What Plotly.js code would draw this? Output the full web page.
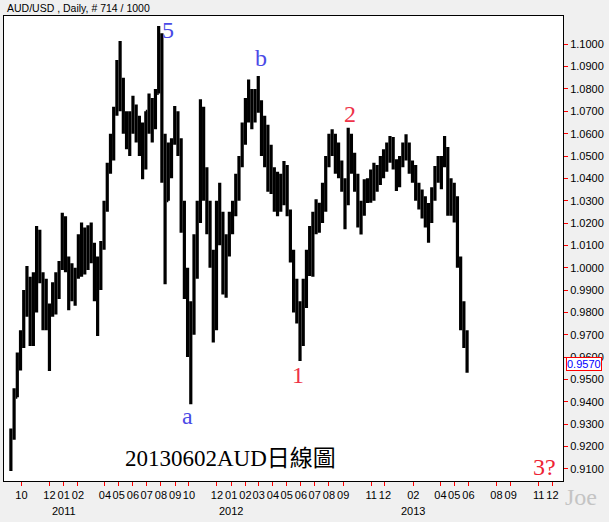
<!DOCTYPE html>
<html><head><meta charset="utf-8">
<script src="https://cdn.plot.ly/plotly-3.0.1.min.js"></script>
<style>html,body{margin:0;padding:0;background:#f0f0f0;overflow:hidden;}</style>
</head><body><div id="chart" style="width:609px;height:522px;"></div>
<script>
// Weekly bars (mid-week dates)
const weeks = [
'2010-09-08','2010-09-15','2010-09-22','2010-09-29','2010-10-06','2010-10-13','2010-10-20','2010-10-27','2010-11-03','2010-11-10','2010-11-17','2010-11-24','2010-12-01','2010-12-08','2010-12-15','2010-12-22','2010-12-29',
'2011-01-05','2011-01-12','2011-01-19','2011-01-26','2011-02-02','2011-02-09','2011-02-16','2011-02-23','2011-03-02','2011-03-09','2011-03-16','2011-03-23','2011-03-30','2011-04-06','2011-04-13','2011-04-20','2011-04-27','2011-05-04','2011-05-11','2011-05-18','2011-05-25','2011-06-01','2011-06-08','2011-06-15','2011-06-22','2011-06-29','2011-07-06','2011-07-13','2011-07-20','2011-07-27','2011-08-03','2011-08-10','2011-08-17','2011-08-24','2011-08-31','2011-09-07','2011-09-14','2011-09-21','2011-09-28','2011-10-05','2011-10-12','2011-10-19','2011-10-26','2011-11-02','2011-11-09','2011-11-16','2011-11-23','2011-11-30','2011-12-07','2011-12-14','2011-12-21','2011-12-28',
'2012-01-04','2012-01-11','2012-01-18','2012-01-25','2012-02-01','2012-02-08','2012-02-15','2012-02-22','2012-02-29','2012-03-07','2012-03-14','2012-03-21','2012-03-28','2012-04-04','2012-04-11','2012-04-18','2012-04-25','2012-05-02','2012-05-09','2012-05-16','2012-05-23','2012-05-30','2012-06-06','2012-06-13','2012-06-20','2012-06-27','2012-07-04','2012-07-11','2012-07-18','2012-07-25','2012-08-01','2012-08-08','2012-08-15','2012-08-22','2012-08-29','2012-09-05','2012-09-12','2012-09-19','2012-09-26','2012-10-03','2012-10-10','2012-10-17','2012-10-24','2012-10-31','2012-11-07','2012-11-14','2012-11-21','2012-11-28','2012-12-05','2012-12-12','2012-12-19','2012-12-26',
'2013-01-02','2013-01-09','2013-01-16','2013-01-23','2013-01-30','2013-02-06','2013-02-13','2013-02-20','2013-02-27','2013-03-06','2013-03-13','2013-03-20','2013-03-27','2013-04-03','2013-04-10','2013-04-17','2013-04-24','2013-05-01','2013-05-08','2013-05-15','2013-05-22','2013-05-29'
];
const openP = [
0.9120,0.9250,0.9420,0.9600,0.9700,0.9850,0.9920,0.9800,0.9810,1.0150,0.9960,0.9850,0.9730,0.9820,0.9860,0.9950,1.0000,
1.0220,1.0000,0.9950,0.9900,0.9960,1.0130,1.0020,1.0100,1.0150,1.0100,0.9900,0.9950,1.0100,1.0290,1.0440,1.0520,1.0700,1.0900,1.0750,1.0650,1.0620,1.0680,1.0700,1.0620,1.0550,1.0480,1.0700,1.0700,1.0650,1.0780,1.0950,1.0450,1.0300,1.0450,1.0560,1.0650,1.0550,1.0250,0.9950,0.9800,0.9750,1.0050,1.0250,1.0700,1.0400,1.0250,1.0050,0.9750,1.0250,1.0200,0.9950,1.0100,
1.0200,1.0250,1.0400,1.0470,1.0620,1.0740,1.0720,1.0700,1.0750,1.0720,1.0550,1.0500,1.0450,1.0400,1.0280,1.0380,1.0350,1.0400,1.0250,1.0050,0.9850,0.9800,0.9700,0.9900,1.0050,1.0000,1.0230,1.0200,1.0250,1.0350,1.0480,1.0580,1.0550,1.0480,1.0420,1.0350,1.0300,1.0580,1.0450,1.0380,1.0200,1.0250,1.0330,1.0380,1.0400,1.0420,1.0440,1.0480,1.0450,1.0500,1.0560,1.0460,
1.0380,1.0480,1.0540,1.0520,1.0440,1.0420,1.0320,1.0300,1.0250,1.0200,1.0250,1.0330,1.0430,1.0420,1.0480,1.0520,1.0300,1.0280,1.0300,1.0020,0.9760,0.9650
];
const highP = [
0.9280,0.9460,0.9620,0.9720,0.9900,1.0008,0.9960,0.9980,1.0187,1.0170,0.9980,0.9950,0.9840,0.9935,0.9980,1.0030,1.0246,
1.0230,1.0050,1.0020,1.0000,1.0150,1.0202,1.0180,1.0190,1.0202,1.0112,1.0050,1.0120,1.0300,1.0470,1.0600,1.0720,1.0930,1.1015,1.0850,1.0700,1.0700,1.0770,1.0730,1.0680,1.0650,1.0700,1.0780,1.0760,1.0800,1.1082,1.1050,1.0600,1.0560,1.0580,1.0724,1.0700,1.0580,1.0300,1.0000,0.9850,1.0150,1.0300,1.0754,1.0720,1.0450,1.0300,1.0080,1.0300,1.0380,1.0250,1.0150,1.0250,
1.0300,1.0420,1.0500,1.0650,1.0760,1.0843,1.0800,1.0800,1.0858,1.0750,1.0680,1.0640,1.0550,1.0450,1.0430,1.0420,1.0478,1.0460,1.0261,1.0080,0.9950,0.9850,0.9950,1.0080,1.0187,1.0250,1.0306,1.0291,1.0380,1.0500,1.0600,1.0620,1.0600,1.0560,1.0480,1.0400,1.0627,1.0600,1.0515,1.0420,1.0300,1.0396,1.0400,1.0440,1.0470,1.0460,1.0500,1.0530,1.0560,1.0590,1.0585,1.0485,
1.0500,1.0560,1.0597,1.0560,1.0480,1.0460,1.0380,1.0350,1.0320,1.0290,1.0360,1.0455,1.0500,1.0500,1.0590,1.0540,1.0400,1.0380,1.0320,1.0050,0.9850,0.9720
];
const lowP = [
0.9090,0.9230,0.9420,0.9540,0.9640,0.9780,0.9650,0.9650,0.9800,0.9930,0.9720,0.9720,0.9538,0.9780,0.9790,0.9860,0.9990,
0.9980,0.9810,0.9850,0.9830,0.9950,0.9960,0.9970,0.9990,1.0020,0.9850,0.9694,0.9900,1.0080,1.0250,1.0420,1.0480,1.0680,1.0700,1.0600,1.0530,1.0500,1.0600,1.0560,1.0500,1.0396,1.0440,1.0600,1.0560,1.0620,1.0780,1.0380,0.9926,1.0300,1.0400,1.0550,1.0500,1.0157,0.9860,0.9600,0.9389,0.9700,0.9950,1.0200,1.0300,1.0150,1.0000,0.9665,0.9720,1.0100,0.9880,0.9866,1.0050,
1.0150,1.0230,1.0300,1.0450,1.0550,1.0650,1.0620,1.0650,1.0694,1.0500,1.0450,1.0340,1.0330,1.0250,1.0230,1.0250,1.0280,1.0230,1.0023,0.9800,0.9750,0.9582,0.9650,0.9820,0.9963,0.9960,1.0150,1.0157,1.0200,1.0250,1.0450,1.0500,1.0420,1.0400,1.0340,1.0172,1.0280,1.0420,1.0340,1.0180,1.0149,1.0232,1.0290,1.0291,1.0300,1.0340,1.0370,1.0400,1.0430,1.0470,1.0440,1.0343,
1.0360,1.0450,1.0480,1.0420,1.0380,1.0300,1.0260,1.0220,1.0180,1.0112,1.0200,1.0300,1.0380,1.0351,1.0450,1.0232,1.0232,1.0202,1.0000,0.9720,0.9640,0.9530
];
const closeP = [
0.9250,0.9420,0.9600,0.9700,0.9850,0.9920,0.9800,0.9810,1.0150,0.9960,0.9850,0.9730,0.9820,0.9860,0.9950,1.0000,1.0220,
1.0000,0.9950,0.9900,0.9960,1.0130,1.0020,1.0100,1.0150,1.0100,0.9900,0.9950,1.0100,1.0290,1.0440,1.0520,1.0700,1.0900,1.0750,1.0650,1.0620,1.0680,1.0700,1.0620,1.0550,1.0480,1.0700,1.0700,1.0650,1.0780,1.0950,1.0450,1.0300,1.0450,1.0560,1.0650,1.0550,1.0250,0.9950,0.9800,0.9750,1.0050,1.0250,1.0700,1.0400,1.0250,1.0050,0.9750,1.0250,1.0200,0.9950,1.0100,1.0200,
1.0250,1.0400,1.0470,1.0620,1.0740,1.0720,1.0700,1.0750,1.0720,1.0550,1.0500,1.0450,1.0400,1.0280,1.0380,1.0350,1.0400,1.0250,1.0050,0.9850,0.9800,0.9700,0.9900,1.0050,1.0000,1.0230,1.0200,1.0250,1.0350,1.0480,1.0580,1.0550,1.0480,1.0420,1.0350,1.0300,1.0580,1.0450,1.0380,1.0200,1.0250,1.0330,1.0380,1.0400,1.0420,1.0440,1.0480,1.0450,1.0500,1.0560,1.0460,1.0380,
1.0480,1.0540,1.0520,1.0440,1.0420,1.0320,1.0300,1.0250,1.0200,1.0250,1.0330,1.0430,1.0420,1.0480,1.0520,1.0300,1.0280,1.0300,1.0020,0.9760,0.9650,0.9570
];

// Axis ticks
const monthTickDates = ['2010-10-01','2010-12-01','2011-01-01','2011-02-01','2011-04-01','2011-05-01','2011-06-01','2011-07-01','2011-08-01','2011-09-01','2011-10-01','2011-12-01','2012-01-01','2012-02-01','2012-03-01','2012-04-01','2012-05-01','2012-06-01','2012-07-01','2012-08-01','2012-09-01','2012-11-01','2012-12-01','2013-02-01','2013-04-01','2013-05-01','2013-06-01','2013-08-01','2013-09-01','2013-11-01','2013-12-01'];
const monthTickLabels = ['10','12','01','02','04','05','06','07','08','09','10','12','01','02','03','04','05','06','07','08','09','11','12','02','04','05','06','08','09','11','12'];
const yearLabels = ['2011','2012','2013'];
const yearLabelDates = ['2011-01-01','2012-01-01','2013-02-01'];
const priceTicks = [0.91,0.92,0.93,0.94,0.95,0.96,0.97,0.98,0.99,1.00,1.01,1.02,1.03,1.04,1.05,1.06,1.07,1.08,1.09,1.10];

// Wave labels
const waveText = ['5','b','2','a','1','3?'];
const waveDates = ['2011-08-16','2012-03-05','2012-09-15','2011-09-28','2012-05-25','2013-11-14'];
const waveLevels = [1.1064,1.0939,1.0686,0.9334,0.9520,0.9106];
const waveColors = ['#4a4ae6','#4a4ae6','#ee3348','#4a4ae6','#ee3348','#ee2233'];

const blk = '#000000';
const trace = {
  type: 'ohlc', x: weeks, open: openP, high: highP, low: lowP, close: closeP,
  increasing: {line: {color: blk, width: 3.2}},
  decreasing: {line: {color: blk, width: 3.2}},
  tickwidth: 0.45, hoverinfo: 'skip', showlegend: false
};

const serif = 'Liberation Serif, Times New Roman, Noto Sans CJK TC, serif';
const ann = [];
ann.push({xref:'paper', yref:'paper', x:0, y:1, xshift:1, yshift:8, xanchor:'left', yanchor:'middle',
  text:'AUD/USD , Daily, # 714 / 1000', showarrow:false, font:{family:'Liberation Sans, Arial, sans-serif', size:10.5, color:'#000'}});
for (let i = 0; i < waveText.length; i++) {
  ann.push({xref:'x', yref:'y', x: waveDates[i], y: waveLevels[i], text: waveText[i], showarrow:false,
    xanchor:'center', yanchor:'middle', font:{family: serif, size: 24, color: waveColors[i]}});
}
ann.push({xref:'x', yref:'y', x:'2011-12-31', y:0.9148, text:'20130602AUD日線圖', showarrow:false,
  xanchor:'center', yanchor:'middle', font:{family: serif, size: 23, color:'#000'}});
ann.push({xref:'paper', yref:'paper', x:1.0322, y:-0.0344, text:'Joe', showarrow:false,
  xanchor:'center', yanchor:'middle', font:{family: serif, size: 24, color:'#c4c4c4'}});
for (let i = 0; i < yearLabels.length; i++) {
  ann.push({xref:'x', yref:'paper', x: yearLabelDates[i], y: 0, yshift: -30, text: yearLabels[i], showarrow:false,
    xanchor:'center', yanchor:'middle', font:{family:'Liberation Sans, Arial, sans-serif', size:11, color:'#000'}});
}
const last = closeP[closeP.length - 1];
ann.push({xref:'paper', yref:'y', x:1, xshift:3, y:last, xanchor:'left', yanchor:'middle', text: last.toFixed(4),
  showarrow:false, bgcolor:'#ffffff', bordercolor:'#ff0000', borderwidth:1, borderpad:0,
  font:{family:'Liberation Sans, Arial, sans-serif', size:11, color:'#0000ff'}});

const layout = {
  width: 609, height: 522,
  margin: {l: 4, r: 46, t: 16, b: 41, pad: 0},
  paper_bgcolor: '#f0f0f0', plot_bgcolor: '#ffffff',
  showlegend: false,
  font: {family: 'Liberation Sans, Arial, sans-serif', size: 11, color: '#000'},
  xaxis: {type: 'date', range: ['2010-08-24', '2013-12-24'], tickmode: 'array',
    tickvals: monthTickDates, ticktext: monthTickLabels, tickangle: 0, ticks: 'outside', ticklen: 4,
    tickcolor: '#ff0000', tickwidth: 1, showgrid: false, zeroline: false, showline: true,
    linecolor: '#000', linewidth: 1, mirror: true, rangeslider: {visible: false},
    tickfont: {size: 11, color: '#000'}, fixedrange: true},
  yaxis: {side: 'right', range: [0.90452, 1.11267], tickmode: 'array', tickvals: priceTicks,
    ticktext: priceTicks.map(v => v.toFixed(4)), ticks: 'outside', ticklen: 4, tickcolor: '#ff0000',
    tickwidth: 1, showgrid: false, zeroline: false, showline: true, linecolor: '#000', linewidth: 1,
    mirror: true, tickfont: {size: 11, color: '#000'}, fixedrange: true},
  annotations: ann
};

Plotly.newPlot('chart', [trace], layout, {staticPlot: true, displayModeBar: false});
</script>
</body></html>
